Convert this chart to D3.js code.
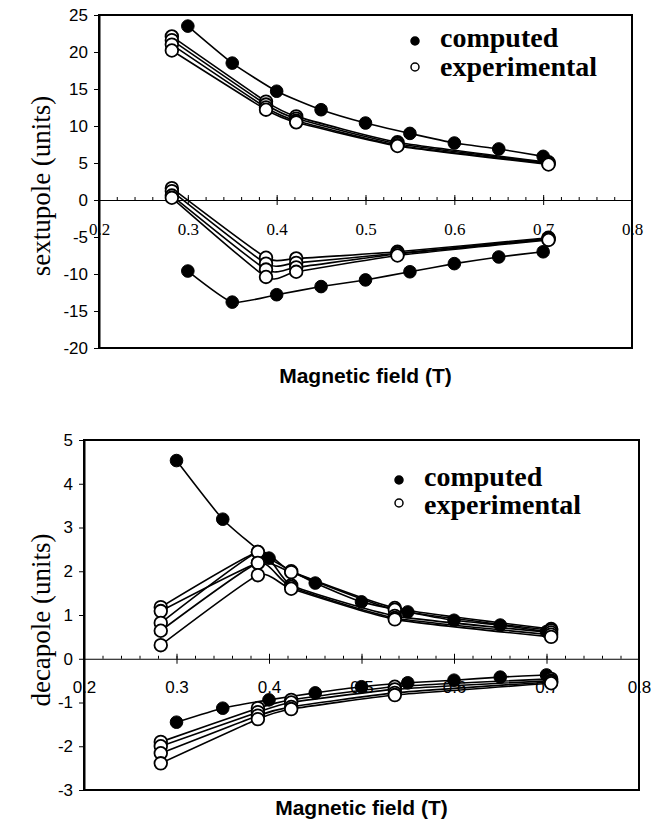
<!DOCTYPE html>
<html>
<head>
<meta charset="utf-8">
<script src="https://cdn.jsdelivr.net/npm/d3@7"></script>
<style>
body { margin: 0; background: #fff; }
</style>
</head>
<body>
<svg id="fig" width="654" height="831"></svg>
<script>
// magnetic field values (T)
var computedField = [0.3, 0.35, 0.4, 0.45, 0.5, 0.55, 0.6, 0.65, 0.7];
var sxExpField = [0.282, 0.388, 0.422, 0.536, 0.706];
var dcExpField = [0.283, 0.388, 0.424, 0.536, 0.705];

// sextupole (units)
var sxComputedUpper = [23.5, 18.5, 14.7, 12.2, 10.4, 9.0, 7.7, 6.9, 5.9];
var sxComputedLower = [-9.6, -13.8, -12.8, -11.7, -10.8, -9.7, -8.6, -7.7, -7.0];
var sxExpUpper = [
    [22.1, 13.3, 11.3, 7.8, 5.1],
    [21.6, 12.9, 11.0, 7.6, 5.0],
    [21.0, 12.5, 10.7, 7.4, 4.9],
    [20.2, 12.2, 10.5, 7.3, 4.8]
];
var sxExpLower = [
    [1.6, -7.8, -7.9, -7.0, -5.1],
    [1.2, -8.6, -8.5, -7.2, -5.2],
    [0.6, -9.4, -9.1, -7.3, -5.3],
    [0.3, -10.4, -9.7, -7.5, -5.4]
];

// decapole (units)
var dcComputedUpper = [4.53, 3.19, 2.3, 1.73, 1.3, 1.07, 0.88, 0.77, 0.62];
var dcComputedLower = [-1.45, -1.13, -0.94, -0.78, -0.64, -0.55, -0.49, -0.42, -0.37];
var dcExpUpper = [
    [1.18, 2.44, 2.0, 1.16, 0.68],
    [1.09, 2.19, 1.98, 1.12, 0.65],
    [0.82, 2.44, 1.68, 0.98, 0.6],
    [0.64, 2.19, 1.64, 0.93, 0.55],
    [0.31, 1.91, 1.6, 0.9, 0.5]
];
var dcExpLower = [
    [-1.9, -1.13, -0.94, -0.64, -0.46],
    [-2.0, -1.22, -1.0, -0.7, -0.5],
    [-2.16, -1.3, -1.1, -0.78, -0.53],
    [-2.39, -1.38, -1.15, -0.83, -0.56]
];

var xTicks = [0.2, 0.3, 0.4, 0.5, 0.6, 0.7, 0.8];
var xMinorTicks = d3.range(0, 31).map(function (i) { return 0.2 + i * 0.02; });
var sxTicks = [25, 20, 15, 10, 5, 0, -5, -10, -15, -20];
var dcTicks = [5, 4, 3, 2, 1, 0, -1, -2, -3];
var legendLabels = ["computed", "experimental"];

var serif = "'Liberation Serif', 'Times New Roman', serif";
var sans = "'Liberation Sans', Arial, sans-serif";

var svg = d3.select("#fig");

function drawPanel(p) {
    var g = svg.append("g");
    var x = d3.scaleLinear().domain([0.2, 0.8]).range([p.left, p.right]);
    var y = d3.scaleLinear().domain(p.yDomain).range([p.bottom, p.top]);

    // frame
    g.append("rect")
        .attr("x", p.left).attr("y", p.top)
        .attr("width", p.right - p.left).attr("height", p.bottom - p.top)
        .style("fill", "none").style("stroke", "#000").style("stroke-width", 2);

    // y axis
    var ya = g.append("g")
        .attr("transform", "translate(" + p.left + ",0)")
        .call(d3.axisLeft(y).tickValues(p.yTicks).tickSize(5).tickSizeOuter(0)
            .tickPadding(6).tickFormat(function (d) { return String(d); }));
    ya.select(".domain").style("stroke-width", 2);
    ya.selectAll("text").style("font-family", sans).style("font-size", "17px").style("fill", "#000");

    // x axis on the zero line: minor ticks first, then major ticks with labels
    var y0 = y(0);
    g.append("g")
        .attr("transform", "translate(0," + y0 + ")")
        .call(d3.axisTop(x).tickValues(xMinorTicks).tickSize(3).tickSizeOuter(0).tickFormat(""))
        .select(".domain").remove();
    var xa = g.append("g")
        .attr("transform", "translate(0," + y0 + ")")
        .call(d3.axisBottom(x).tickValues(xTicks).tickSize(5).tickSizeOuter(0)
            .tickPadding(p.xPad).tickFormat(d3.format(".1f")));
    xa.selectAll(".tick line").attr("y1", -5);
    xa.select(".domain").style("stroke-width", 1);
    xa.selectAll("text").style("font-family", p.xFont).style("font-size", "17px").style("fill", "#000");

    // titles
    g.append("text")
        .attr("transform", "translate(" + p.yTitleX + "," + p.yTitleY + ") rotate(-90)")
        .attr("text-anchor", "middle")
        .style("font-family", serif).style("font-size", "27px")
        .text(p.yTitle);
    g.append("text")
        .attr("x", (p.left + p.right) / 2).attr("y", p.xTitleY)
        .attr("text-anchor", "middle")
        .style("font-family", sans).style("font-size", "21px").style("font-weight", "bold")
        .text("Magnetic field (T)");

    var line = d3.line()
        .x(function (d) { return x(d[0]); })
        .y(function (d) { return y(d[1]); })
        .curve(d3.curveCardinal.tension(0.5));

    function series(xs, ys, filled) {
        var pts = xs.map(function (v, i) { return [v, ys[i]]; });
        g.append("path").datum(pts).attr("d", line)
            .style("fill", "none").style("stroke", "#000").style("stroke-width", 1.6);
        g.selectAll(null).data(pts).enter().append("circle")
            .attr("cx", function (d) { return x(d[0]); })
            .attr("cy", function (d) { return y(d[1]); })
            .attr("r", 6.3)
            .style("fill", filled ? "#000" : "#fff")
            .style("stroke", "#000").style("stroke-width", filled ? 1 : 1.8);
    }

    series(computedField, p.compUpper, true);
    series(computedField, p.compLower, true);
    p.expUpper.forEach(function (s) { series(p.expField, s, false); });
    p.expLower.forEach(function (s) { series(p.expField, s, false); });

    // legend
    legendLabels.forEach(function (lab, i) {
        g.append("circle")
            .attr("cx", p.legX).attr("cy", p.legY[i])
            .attr("r", 4)
            .style("fill", i == 0 ? "#000" : "#fff")
            .style("stroke", "#000").style("stroke-width", 1.5);
        g.append("text")
            .attr("x", p.legX + 25).attr("y", p.legBase[i])
            .style("font-family", serif).style("font-size", "28px").style("font-weight", "bold")
            .text(lab);
    });
}

drawPanel({
    left: 99, right: 632, top: 15, bottom: 348,
    yDomain: [-20, 25], yTicks: sxTicks, xPad: 18, xFont: serif,
    yTitle: "sextupole (units)", yTitleX: 50, yTitleY: 186, xTitleY: 383,
    compUpper: sxComputedUpper, compLower: sxComputedLower,
    expField: sxExpField, expUpper: sxExpUpper, expLower: sxExpLower,
    legX: 415, legY: [41, 67], legBase: [47, 76]
});

drawPanel({
    left: 84, right: 639, top: 440, bottom: 790,
    yDomain: [-3, 5], yTicks: dcTicks, xPad: 17, xFont: sans,
    yTitle: "decapole (units)", yTitleX: 50, yTitleY: 620, xTitleY: 815,
    compUpper: dcComputedUpper, compLower: dcComputedLower,
    expField: dcExpField, expUpper: dcExpUpper, expLower: dcExpLower,
    legX: 399, legY: [480, 503], legBase: [486, 514]
});
</script>
</body>
</html>
